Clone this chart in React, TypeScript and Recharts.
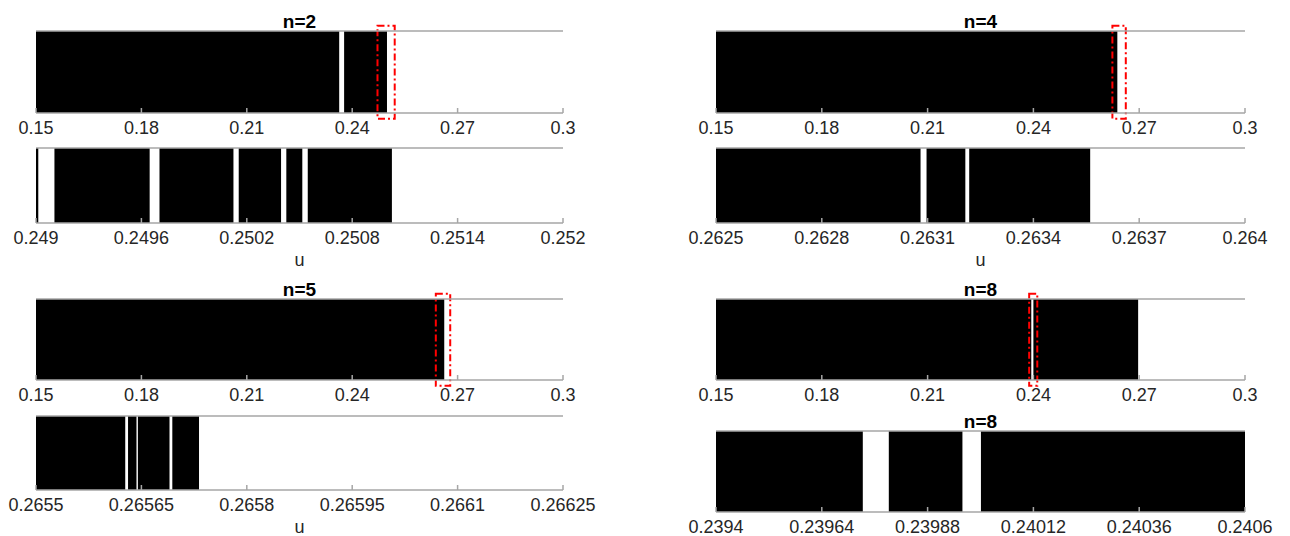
import { AreaChart, Area, XAxis, YAxis, ReferenceArea } from 'recharts'

type Iv = [number, number]

const fullTicks = [0.15, 0.18, 0.21, 0.24, 0.27, 0.3]
const n2Ticks = [0.249, 0.2496, 0.2502, 0.2508, 0.2514, 0.252]
const n4Ticks = [0.2625, 0.2628, 0.2631, 0.2634, 0.2637, 0.264]
const n5Ticks = [0.2655, 0.26565, 0.2658, 0.26595, 0.2661, 0.26625]
const n8Ticks = [0.2394, 0.23964, 0.23988, 0.24012, 0.24036, 0.2406]

// black u-intervals
const n2Wide: Iv[] = [[0.15, 0.2363], [0.2377, 0.2499]]
const n2Zoom: Iv[] = [
  [0.249, 0.249013], [0.249105, 0.249647], [0.249703, 0.250124],
  [0.250154, 0.250395], [0.250425, 0.250516], [0.250547, 0.251026],
]
const n4Wide: Iv[] = [[0.15, 0.2638]]
const n4Zoom: Iv[] = [[0.2625, 0.26308], [0.263097, 0.263207], [0.263218, 0.263561]]
const n5Wide: Iv[] = [[0.15, 0.2662]]
const n5Zoom: Iv[] = [[0.2655, 0.265627], [0.265631, 0.265643], [0.265645, 0.26569], [0.265694, 0.265732]]
const n8Wide: Iv[] = [[0.15, 0.2394], [0.24, 0.2697]]
const n8Zoom: Iv[] = [[0.2394, 0.239733], [0.239792, 0.239959], [0.240001, 0.2406]]

// red dash-dot boxes around the zoomed part
const n2Box: Iv = [0.2472, 0.2521]
const n4Box: Iv = [0.2624, 0.2662]
const n5Box: Iv = [0.2638, 0.2679]
const n8Box: Iv = [0.2388, 0.2411]

const FONT = '"Liberation Sans", Arial, Helvetica, sans-serif'
const AX = '#a6a6a6'
const TXT = '#262626'

type StripProps = {
  x: number; y: number; w: number; h: number
  ticks: number[]; data: Iv[]
  title?: string; xlabel?: string; box?: Iv
}

function Strip({ x, y, w, h, ticks, data, title, xlabel, box }: StripProps) {
  const pts = data.flatMap(([a, b]) => [{ u: a, v: 1 }, { u: b, v: 0 }])
  const dom = [ticks[0], ticks[ticks.length - 1]]
  const M = 50, T = 40, TA = 20, B = 60
  return (
    <div style={{ position: 'absolute', left: x - M, top: y - T }}>
      <AreaChart width={w + 2 * M} height={h + T + B} data={pts} margin={{ top: T - TA, right: M, bottom: 0, left: M }}>
        <XAxis
          type="number" dataKey="u" domain={dom} ticks={ticks} interval={0} height={B}
          tickSize={-5} tickMargin={13} stroke={AX} strokeWidth={1.5}
          tick={{ fontSize: 18, fill: TXT, fontFamily: FONT }}
          tickFormatter={(v) => String(v)}
          label={xlabel ? { value: xlabel, position: 'insideBottom', offset: 17, fontSize: 18, fill: TXT, fontFamily: FONT } : undefined}
        />
        <XAxis
          xAxisId="top" orientation="top" type="number" dataKey="u" domain={dom} ticks={ticks} interval={0}
          height={TA} tickSize={-5} tick={false} stroke={AX} strokeWidth={1.5}
          label={title ? { value: title, position: 'center', fontSize: 19, fontWeight: 700, fill: '#000', fontFamily: FONT } : undefined}
        />
        <YAxis hide domain={[0, 1]} />
        <Area type="stepAfter" dataKey="v" fill="#000" fillOpacity={1} stroke="none" dot={false} activeDot={false} isAnimationActive={false} />
        {box && (
          <ReferenceArea
            x1={box[0]} x2={box[1]} y1={-0.07} y2={1.065} ifOverflow="visible"
            fill="none" stroke="#ff0000" strokeWidth={2} strokeDasharray="7 3 2 3"
          />
        )}
      </AreaChart>
    </div>
  )
}

export default function App() {
  return (
    <div style={{ position: 'absolute', left: 0, top: 0, width: 1290, height: 536, overflow: 'hidden', background: '#fff', fontFamily: FONT }}>
      <Strip x={36} y={31} w={527} h={82} ticks={fullTicks} data={n2Wide} title="n=2" box={n2Box} />
      <Strip x={716} y={31} w={529} h={82} ticks={fullTicks} data={n4Wide} title="n=4" box={n4Box} />
      <Strip x={36} y={148} w={527} h={75} ticks={n2Ticks} data={n2Zoom} xlabel="u" />
      <Strip x={716} y={148} w={529} h={75} ticks={n4Ticks} data={n4Zoom} xlabel="u" />
      <Strip x={36} y={299} w={527} h={81} ticks={fullTicks} data={n5Wide} title="n=5" box={n5Box} />
      <Strip x={716} y={299} w={529} h={81} ticks={fullTicks} data={n8Wide} title="n=8" box={n8Box} />
      <Strip x={36} y={416} w={527} h={74} ticks={n5Ticks} data={n5Zoom} xlabel="u" />
      <Strip x={716} y={431} w={529} h={81} ticks={n8Ticks} data={n8Zoom} title="n=8" />
    </div>
  )
}
